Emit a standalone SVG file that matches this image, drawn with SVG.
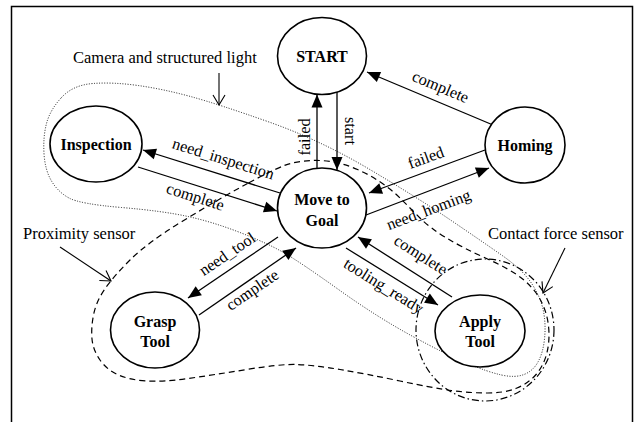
<svg xmlns="http://www.w3.org/2000/svg" width="638" height="422" viewBox="0 0 638 422">
<style>
.node ellipse{fill:#fff;stroke:#000;stroke-width:1.6}
.node text{font-family:"Liberation Serif","Times New Roman",serif;font-weight:bold;font-size:16px;text-anchor:middle;fill:#000}
.edge{fill:none;stroke:#000;stroke-width:1.3;marker-end:url(#ah)}
.lbl{font-family:"Liberation Serif","Times New Roman",serif;font-size:16.3px;text-anchor:middle;fill:#000}
.note{font-family:"Liberation Serif","Times New Roman",serif;font-size:16.5px;fill:#000}
.pointer{fill:none;stroke:#000;stroke-width:1.1;marker-end:url(#open)}
.dotted{fill:none;stroke:#000;stroke-width:0.9;stroke-dasharray:1,1.6}
.dashed{fill:none;stroke:#000;stroke-width:1.2;stroke-dasharray:6,4}
.dashdot{fill:none;stroke:#000;stroke-width:1.2;stroke-dasharray:7,3,1.5,3}
</style>
<defs>
<marker id="ah" markerUnits="userSpaceOnUse" markerWidth="16" markerHeight="14" viewBox="-14 -7 16 14" refX="0" refY="0" orient="auto">
<path d="M0,0 L-13,-5.5 L-13,5.5 Z" fill="#000"/>
</marker>
<marker id="open" markerUnits="userSpaceOnUse" markerWidth="16" markerHeight="16" viewBox="-12 -8 14 16" refX="0" refY="0" orient="auto">
<path d="M-10,-6 L0,0 L-10,6" fill="none" stroke="#000" stroke-width="1.1"/>
</marker>
</defs>
<rect x="0" y="0" width="638" height="422" fill="#fff"/>
<path d="M11.5,422 V6.5 H632.5 V422" fill="none" stroke="#000" stroke-width="1.5"/>

<g id="regions">
<path class="dotted" d="M61.5,97.5 Q73,85 93,83.5 Q113,82 138,85.5 Q163,89 190.5,96.5 Q218,104 269,122 Q320,140 369,169 Q418,198 449,219 Q480,240 501.5,255 Q523,270 532,284 Q541,298 543.5,311.5 Q546,325 544.5,339 Q543,353 538,362 Q533,371 524,374.5 Q515,378 501.5,375 Q488,372 467.5,363.5 Q447,355 412,336 Q377,317 338.5,289.5 Q300,262 283.5,252.5 Q267,243 240,232.5 Q213,222 188,216.5 Q163,211 121.5,207.5 Q80,204 69,198 Q58,192 51.5,181 Q45,170 44,153.5 Q43,137 46.5,123.5 Q50,110 61.5,97.5 Z"/>
<path class="dashed" d="M248.5,183 Q280,166 290.5,163.5 Q301,161 311.5,160.5 Q322,160 333.5,162 Q345,164 357.5,169.5 Q370,175 381,182.5 Q392,190 401,199 Q410,208 420,218 Q430,228 446.5,238 Q463,248 486.5,258.5 Q510,269 522,278.5 Q534,288 540.5,300 Q547,312 548.5,326 Q550,340 547,352.5 Q544,365 536.5,374 Q529,383 517,388 Q505,393 487.5,393 Q470,393 451.5,390.5 Q433,388 400,381 Q367,374 340,369.5 Q313,365 296.5,364.5 Q280,364 246.5,369.5 Q213,375 188,378.5 Q163,382 146.5,381 Q130,380 118.5,375 Q107,370 100,360 Q93,350 92,339 Q91,328 93.5,315 Q96,302 104.5,289.5 Q113,277 130,260 Q147,243 182,221.5 Q217,200 248.5,183 Z"/>
<ellipse class="dashdot" cx="485" cy="330" rx="69" ry="71"/>
</g>

<g id="annotations">
<text class="note" x="73" y="63">Camera and structured light</text>
<path class="pointer" d="M219,73 V105"/>
<text class="note" x="23" y="239">Proximity sensor</text>
<path class="pointer" d="M60,247 L111,281"/>
<text class="note" x="488" y="239">Contact force sensor</text>
<path class="pointer" d="M565,248 L543,293"/>
</g>

<g id="connectors">
<path class="edge" d="M317,169 V94.5"/>
<path class="edge" d="M337,92 V170"/>
<path class="edge" d="M493,125 L367,72"/>
<path class="edge" d="M485,150 L369,193"/>
<path class="edge" d="M366,215 L489,168"/>
<path class="edge" d="M280,193 L143,150"/>
<path class="edge" d="M138,167 L277,211"/>
<path class="edge" d="M278,237 L188,298"/>
<path class="edge" d="M199,315 L296,248"/>
<path class="edge" d="M452,297 L358,237"/>
<path class="edge" d="M346,248 L438,305"/>
<text class="lbl" transform="translate(304,137) rotate(-90)" y="5.5">failed</text>
<text class="lbl" transform="translate(349,131) rotate(90)" y="4.5">start</text>
<text class="lbl" transform="translate(440,88) rotate(22.8)" y="4">complete</text>
<text class="lbl" transform="translate(426,158) rotate(-20)" y="5">failed</text>
<text class="lbl" transform="translate(429,211) rotate(-20.5)" y="4">need_homing</text>
<text class="lbl" transform="translate(223,160) rotate(17.4)" y="4">need_inspection</text>
<text class="lbl" transform="translate(195,198) rotate(17.6)" y="4">complete</text>
<text class="lbl" transform="translate(228,255) rotate(-34)" y="4">need_tool</text>
<text class="lbl" transform="translate(253,291) rotate(-34.4)" y="4">complete</text>
<text class="lbl" transform="translate(420,256) rotate(32.5)" y="4">complete</text>
<text class="lbl" transform="translate(383,287) rotate(31.8)" y="4">tooling_ready</text>
</g>

<g id="start" class="node"><ellipse cx="322" cy="56" rx="44.5" ry="38.5"/><text x="322" y="62">START</text></g>
<g id="homing" class="node"><ellipse cx="525" cy="145" rx="40" ry="38"/><text x="525" y="151">Homing</text></g>
<g id="inspection" class="node"><ellipse cx="96" cy="144" rx="46" ry="38"/><text x="96" y="150">Inspection</text></g>
<g id="move-to-goal" class="node"><ellipse cx="322" cy="208" rx="44.5" ry="40"/><text x="322" y="205">Move to</text><text x="322" y="226">Goal</text></g>
<g id="grasp-tool" class="node"><ellipse cx="155" cy="330" rx="44.5" ry="38"/><text x="155" y="327">Grasp</text><text x="155" y="347">Tool</text></g>
<g id="apply-tool" class="node"><ellipse cx="480" cy="331" rx="45" ry="36"/><text x="480" y="327">Apply</text><text x="480" y="347">Tool</text></g>
</svg>
